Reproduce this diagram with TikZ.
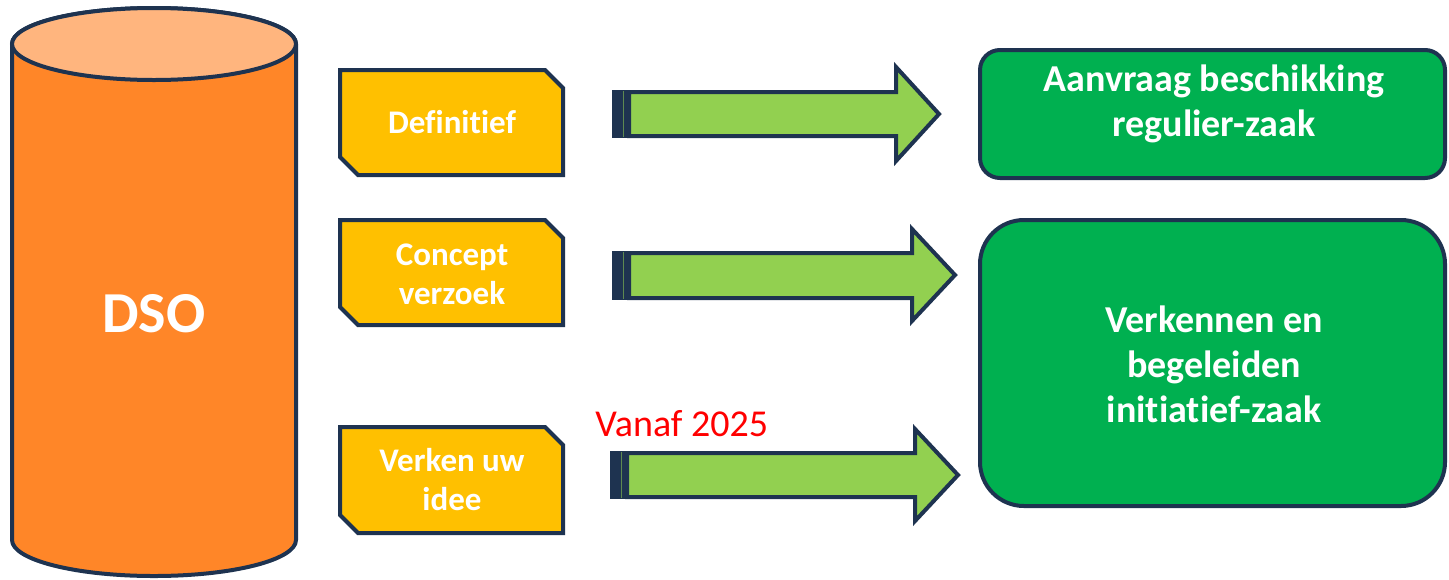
\documentclass[tikz,border=0pt]{standalone}
\usepackage{fontspec}
\setmainfont{Carlito}[Ligatures=NoCommon]
\definecolor{navy}{HTML}{1E3350}
\definecolor{dsoorange}{HTML}{FF8628}
\definecolor{dsotop}{HTML}{FFB57E}
\definecolor{ygold}{HTML}{FFC000}
\definecolor{agreen}{HTML}{92D050}
\definecolor{boxgreen}{HTML}{00B050}
\newcommand\ychamf[4]{\path[outl,fill=ygold] (#1,#2) -- (#3-18,#2) -- (#3,#2+18) -- (#3,#4) -- (#1+18,#4) -- (#1,#4-18) -- cycle;}
\newcommand\blockarrow[7]{%
  \fill[navy] (#1,#2-2) rectangle (#1+17,#3+2);
  \draw[navy!45!agreen,line width=0.5pt] (#1+11,#2-1) -- (#1+11,#3+1);
  \path[outl,fill=agreen] (#1+17,#2) -- (#4,#2) -- (#4,#5) -- (#7,{(#5+#6)/2}) -- (#4,#6) -- (#4,#3) -- (#1+17,#3) -- cycle;}
\begin{document}
\begin{tikzpicture}[x=0.5pt,y=-0.5pt,
  outl/.style={draw=navy,line width=2pt,line join=miter},
  ytext/.style={font=\bfseries\fontsize{16.5}{19.5}\selectfont,text=white,align=center,inner sep=0pt},
  gtext/.style={font=\bfseries\fontsize{19}{22.5}\selectfont,text=white,align=center,inner sep=0pt},
  dsotext/.style={font=\bfseries\fontsize{29}{34}\selectfont,text=white,inner sep=0pt},
  redtext/.style={font=\fontsize{19}{22}\selectfont,text=red,inner sep=0pt}]
\useasboundingbox (0,0) rectangle (1449,579);
% cylinder
\path[outl,fill=dsoorange] (12,44) -- (12,540) arc[start angle=180,end angle=360,x radius=71pt,y radius=18pt] -- (296,44) arc[start angle=0,end angle=180,x radius=71pt,y radius=18pt] -- cycle;
\draw[outl,fill=dsotop] (154,44) ellipse[x radius=71pt,y radius=18pt];
\node[dsotext] (dso) at (154,314) {DSO};
% yellow boxes
\ychamf{340}{70}{563}{175}
\ychamf{340}{220}{563}{325}
\ychamf{340}{427}{563}{533}
\node[ytext] (def) at (452,122.5) {Definitief};
\node[ytext] (con) at (452,274) {Concept\\verzoek};
\node[ytext] (ver) at (452,479.5) {Verken uw\\idee};
% arrows
\blockarrow{612}{92}{136}{896}{67}{161}{939}
\blockarrow{612}{253}{298}{912}{229}{321}{955}
\blockarrow{610}{453}{497}{915}{429}{521}{958}
% green boxes
\draw[outl,fill=boxgreen,rounded corners=10pt] (980,50) rectangle (1445,178);
\draw[outl,fill=boxgreen,rounded corners=22pt] (980,220) rectangle (1445,506);
\node[gtext] (reg) at (1214,103.5) {Aanvraag beschikking\\regulier-zaak};
\node[gtext] (ini) at (1214,364) {Verkennen en\\begeleiden\\initiatief-zaak};
\node[redtext,anchor=base west] (vanaf) at (595,436) {Vanaf 2025};
\end{tikzpicture}
\end{document}
